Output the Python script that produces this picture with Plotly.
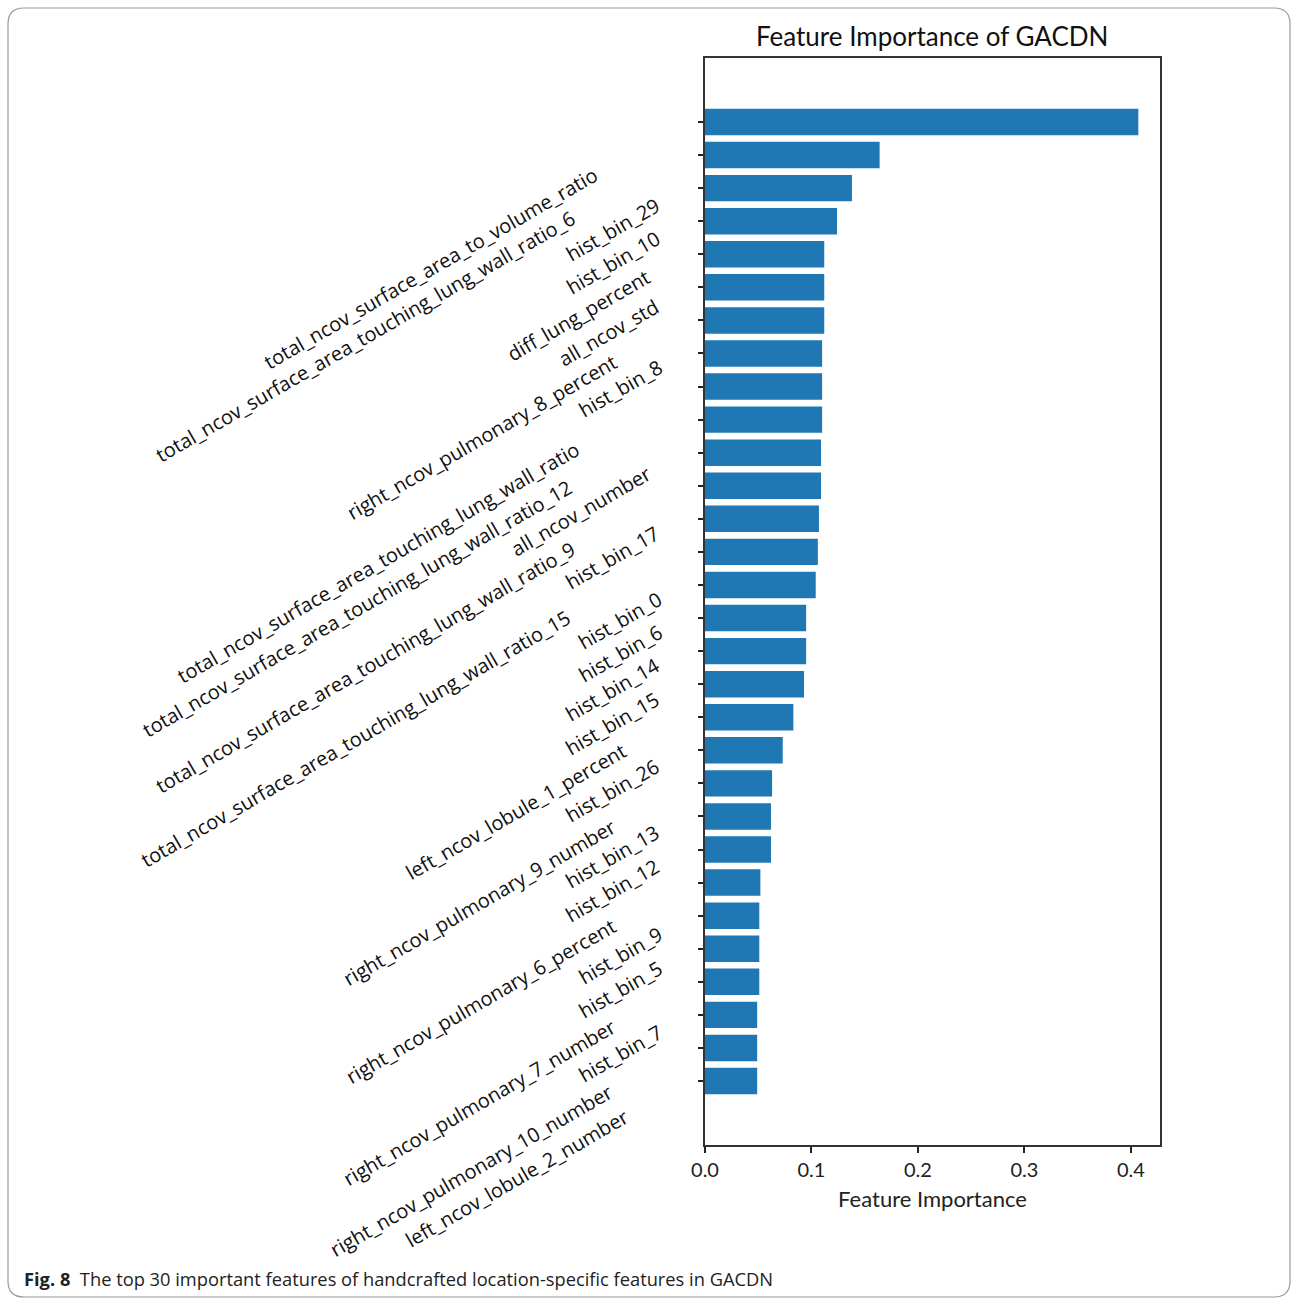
import plotly.graph_objects as go

# ---------------- data ----------------
FEATURES = [
    "total_ncov_surface_area_to_volume_ratio",
    "total_ncov_surface_area_touching_lung_wall_ratio_6",
    "hist_bin_29",
    "hist_bin_10",
    "diff_lung_percent",
    "all_ncov_std",
    "right_ncov_pulmonary_8_percent",
    "hist_bin_8",
    "total_ncov_surface_area_touching_lung_wall_ratio",
    "total_ncov_surface_area_touching_lung_wall_ratio_12",
    "all_ncov_number",
    "total_ncov_surface_area_touching_lung_wall_ratio_9",
    "hist_bin_17",
    "total_ncov_surface_area_touching_lung_wall_ratio_15",
    "hist_bin_0",
    "hist_bin_6",
    "hist_bin_14",
    "hist_bin_15",
    "left_ncov_lobule_1_percent",
    "hist_bin_26",
    "right_ncov_pulmonary_9_number",
    "hist_bin_13",
    "hist_bin_12",
    "right_ncov_pulmonary_6_percent",
    "hist_bin_9",
    "hist_bin_5",
    "right_ncov_pulmonary_7_number",
    "hist_bin_7",
    "right_ncov_pulmonary_10_number",
    "left_ncov_lobule_2_number",
]
IMPORTANCE = [
    0.407, 0.164, 0.138, 0.124, 0.112, 0.112, 0.112, 0.110, 0.110, 0.110,
    0.109, 0.109, 0.107, 0.106, 0.104, 0.095, 0.095, 0.093, 0.083, 0.073,
    0.063, 0.062, 0.062, 0.052, 0.051, 0.051, 0.051, 0.049, 0.049, 0.049,
]
X_TICKS = [0.0, 0.1, 0.2, 0.3, 0.4]
X_TICK_TEXT = ["0.0", "0.1", "0.2", "0.3", "0.4"]
TITLE = "Feature Importance of GACDN"
X_TITLE = "Feature Importance"
CAPTION_BOLD = "Fig. 8"
CAPTION_TEXT = "The top 30 important features of handcrafted location-specific features in GACDN"

# ---------------- layout constants ----------------
W, H = 1292, 1299
PL, PR, PT, PB = 705, 1160, 58, 1145  # plot area in pixels

# centres (pixels) of the rotated feature labels, as placed in the reference
LABEL_CENTERS_PX = [
    (430, 268), (365, 336), (613, 230), (613, 262), (578, 315), (609, 333),
    (481, 437), (620, 388), (378, 562), (357, 608), (580, 511), (365, 667),
    (612, 557), (356, 739), (620, 621), (620, 653), (612, 689), (612, 723),
    (516, 812), (612, 790), (479, 902), (612, 856), (612, 890), (480, 1001),
    (620, 955), (620, 989), (479, 1102), (620, 1053), (471, 1170), (516, 1178),
]


def px_to_paper(x, y):
    return (x - PL) / (PR - PL), (PB - y) / (PB - PT)


n = len(FEATURES)
pad = 1.935

fig = go.Figure()
fig.add_trace(go.Bar(
    x=IMPORTANCE,
    y=list(range(n)),
    orientation="h",
    width=0.8,
    marker=dict(color="#1f77b4", line=dict(width=0)),
    hovertext=FEATURES,
))

annotations = []
for name, (cx, cy) in zip(FEATURES, LABEL_CENTERS_PX):
    xp, yp = px_to_paper(cx, cy)
    annotations.append(dict(
        text=name, x=xp, y=yp, xref="paper", yref="paper",
        xanchor="center", yanchor="middle", textangle=-30, showarrow=False,
        font=dict(family="Open Sans", size=20, color="#111111"),
    ))

# caption
cxp, cyp = px_to_paper(22, 1278)
annotations.append(dict(
    text=f"<b>{CAPTION_BOLD}</b>  {CAPTION_TEXT}",
    x=cxp, y=cyp, xref="paper", yref="paper", xanchor="left", yanchor="middle",
    showarrow=False, font=dict(family="Open Sans", size=18.3, color="#222222"),
))

# title
txp, typ = px_to_paper(932, 36)
annotations.append(dict(
    text=TITLE, x=txp, y=typ, xref="paper", yref="paper",
    xanchor="center", yanchor="middle", showarrow=False,
    font=dict(family="Lato", size=26, color="#111111"),
))

# rounded border around the whole figure
bx0, by0, bx1, by1, r = 8, 8, 1290, 1297, 16


def P(x, y):
    xp, yp = px_to_paper(x, y)
    return f"{xp:.5f},{yp:.5f}"


path = (
    f"M {P(bx0 + r, by0)} L {P(bx1 - r, by0)} Q {P(bx1, by0)} {P(bx1, by0 + r)} "
    f"L {P(bx1, by1 - r)} Q {P(bx1, by1)} {P(bx1 - r, by1)} "
    f"L {P(bx0 + r, by1)} Q {P(bx0, by1)} {P(bx0, by1 - r)} "
    f"L {P(bx0, by0 + r)} Q {P(bx0, by0)} {P(bx0 + r, by0)} Z"
)

fig.update_layout(
    width=W, height=H,
    margin=dict(l=PL, r=W - PR, t=PT, b=H - PB, autoexpand=False),
    paper_bgcolor="white", plot_bgcolor="white",
    showlegend=False,
    annotations=annotations,
    shapes=[dict(type="path", path=path, xref="paper", yref="paper",
                 line=dict(color="#9a9a9a", width=1.2), layer="below")],
    xaxis=dict(
        range=[0, max(IMPORTANCE) * 1.05],
        tickvals=X_TICKS, ticktext=X_TICK_TEXT,
        ticks="outside", ticklen=6, tickwidth=1.5, tickcolor="#222222",
        showline=True, linecolor="#333333", linewidth=1.5, mirror=True,
        showgrid=False, zeroline=False,
        tickfont=dict(family="Lato", size=20, color="#222222"),
        title=dict(text=X_TITLE, font=dict(family="Lato", size=22, color="#222222"),
                   standoff=12),
    ),
    yaxis=dict(
        range=[n - 1 + pad, -pad],
        tickvals=list(range(n)), showticklabels=False,
        ticks="outside", ticklen=5, tickwidth=1.5, tickcolor="#222222",
        showline=True, linecolor="#333333", linewidth=1.5, mirror=True,
        showgrid=False, zeroline=False,
    ),
)

fig.write_html("out.html")
